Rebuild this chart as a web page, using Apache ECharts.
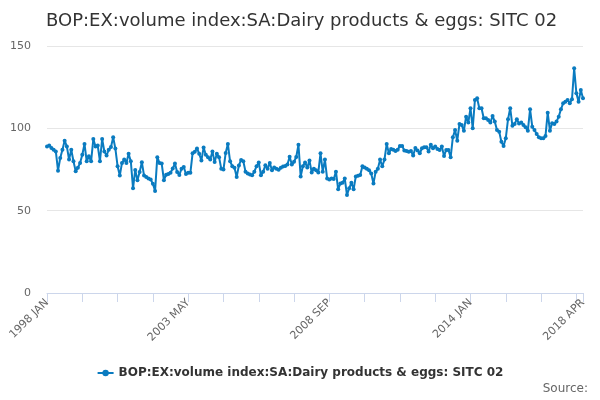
<!DOCTYPE html>
<html>
<head>
<meta charset="utf-8">
<script src="https://cdn.jsdelivr.net/npm/echarts@6/dist/echarts.min.js"></script>
<style>
  html, body { margin: 0; padding: 0; background: #fff; }
  #chart_div { width: 600px; height: 400px; }
</style>
</head>
<body>
<div id="chart_div"></div>
<script>
var monthNames = ['JAN', 'FEB', 'MAR', 'APR', 'MAY', 'JUN', 'JUL', 'AUG', 'SEP', 'OCT', 'NOV', 'DEC'];
var startYear = 1998;
var seriesName = 'BOP:EX:volume index:SA:Dairy products & eggs: SITC 02';
var yTicks = [0, 50, 100, 150];

// 1998 JAN - 2005 APR
var values1 = [
	88.9, 89.5, 88, 87, 86, 74.3, 82, 87, 92.5, 89, 81, 87, 80, 74, 76, 79, 84, 90.5, 80, 83,
	80, 93.5, 89, 89.5, 80, 93.5, 86, 83.5, 87, 88.6, 94.6, 87.7, 77, 71.3, 79, 81, 79, 84.5, 80, 63.6,
	74.7, 68.5, 73.5, 79.4, 71.3, 70.5, 69.5, 69, 66.3, 62, 82.5, 79, 78.6, 68.5, 71.8, 72.3, 73, 75.6, 78.6, 73.5,
	71.7, 75.5, 76.5, 72.3, 73, 73, 84.8, 85.8, 87.8, 84.6, 80.5, 88.3, 84, 82.5, 81, 86, 79.5, 84.5, 82.5, 75.5,
	75, 85, 90.5, 80, 77, 76, 70.5, 77.5
];
// 2005 MAY - 2012 FEB
var values2 = [
	80.8, 80, 73.7, 72.5, 72, 71.5, 73.7, 77, 79.3, 71.5, 73.7, 77.6, 75.4, 79, 74.5, 76.2, 75.4, 74.8, 76, 76.8,
	77.2, 78, 82.8, 78, 79.7, 82.6, 90, 70.8, 77, 79.3, 76.2, 80.4, 73.2, 75.4, 74.5, 73.2, 84.8, 73.7, 81, 69.5,
	69, 69.5, 69.2, 73.7, 63, 66.5, 67, 69.5, 59.5, 63.6, 67, 63, 70.8, 71.2, 71.6, 77, 76.2, 75.4, 74.5, 72.5,
	66.5, 73.7, 75.4, 81, 77, 81, 90.5, 84.8, 87.4, 87, 86.3, 87, 89.3, 89.3, 86.6, 86.3, 85.8, 86.3, 83.5, 88,
	86.6, 84.8
];
// 2012 MAR - 2018 APR
var values3 = [
	87.9, 88.5, 88.5, 85.9, 90, 87.9, 88.9, 87.5, 86.9, 88.9, 83.2, 86.9, 86.9, 82.4, 94.6, 99, 92.5, 102.7, 102, 98.6,
	107.1, 103.5, 112.2, 100, 117.2, 118.3, 112.2, 112.2, 106.1, 106.1, 105.1, 103.5, 107.5, 104.1, 99, 98, 91.9, 89.3, 94, 105.5,
	112.2, 101.5, 102.7, 105.5, 103, 103.5, 102, 100.6, 98.6, 111.6, 101, 99, 96.6, 94.6, 94, 94, 95.4, 109.5, 98.6, 103.1,
	102.7, 104.1, 107.1, 111.6, 115.2, 116.2, 117.2, 115.2, 117.6, 136.5, 121.3, 116.2, 123.3, 118.3
];

var values = values1.concat(values2, values3);

var categories = [];
for (var i = 0; i < values.length; i++) {
	categories.push((startYear + Math.floor(i / 12)) + ' ' + monthNames[i % 12]);
}
var lastIndex = categories.length - 1;

var mychart = echarts.init(document.getElementById('chart_div'));

var option = {
	animation : false,
	textStyle : {
		fontFamily : 'DejaVu Sans'
	},
	title : {
		text : seriesName,
		left : 41,
		top : 7,
		textStyle : {
			fontSize : 18,
			fontWeight : 'normal',
			color : '#333333'
		}
	},
	legend : {
		bottom : 16,
		left : 'center',
		itemWidth : 16,
		itemHeight : 8,
		textStyle : {
			fontSize : 12,
			fontWeight : 'bold',
			color : '#333333'
		}
	},
	graphic : [ {
		type : 'text',
		right : 12,
		top : 383,
		style : {
			text : 'Source:',
			fontSize : 12,
			fill : '#666666',
			fontFamily : 'DejaVu Sans'
		}
	} ],
	grid : {
		left : 47,
		right : 17,
		top : 46,
		bottom : 107
	},
	xAxis : {
		type : 'category',
		data : categories,
		boundaryGap : false,
		axisLine : {
			lineStyle : {
				color : '#ccd6eb'
			}
		},
		axisTick : {
			length : 9,
			interval : function(index) {
				return index % 16 === 0 || index === lastIndex;
			},
			lineStyle : {
				color : '#ccd6eb'
			}
		},
		axisLabel : {
			rotate : 45,
			interval : function(index) {
				return index % 64 === 0 || index === lastIndex;
			},
			color : '#666666',
			fontSize : 11,
			margin : 8
		}
	},
	yAxis : {
		type : 'value',
		min : yTicks[0],
		max : yTicks[yTicks.length - 1],
		interval : 50,
		axisLine : {
			show : false
		},
		axisTick : {
			show : false
		},
		axisLabel : {
			color : '#666666',
			fontSize : 11,
			margin : 16
		},
		splitLine : {
			lineStyle : {
				color : '#e6e6e6'
			}
		}
	},
	series : [ {
		name : seriesName,
		type : 'line',
		data : values,
		showAllSymbol : true,
		symbol : 'circle',
		symbolSize : 4,
		itemStyle : {
			color : '#0a7bc0'
		},
		lineStyle : {
			width : 2,
			color : '#0a7bc0'
		}
	} ]
};

mychart.setOption(option);
</script>
</body>
</html>
